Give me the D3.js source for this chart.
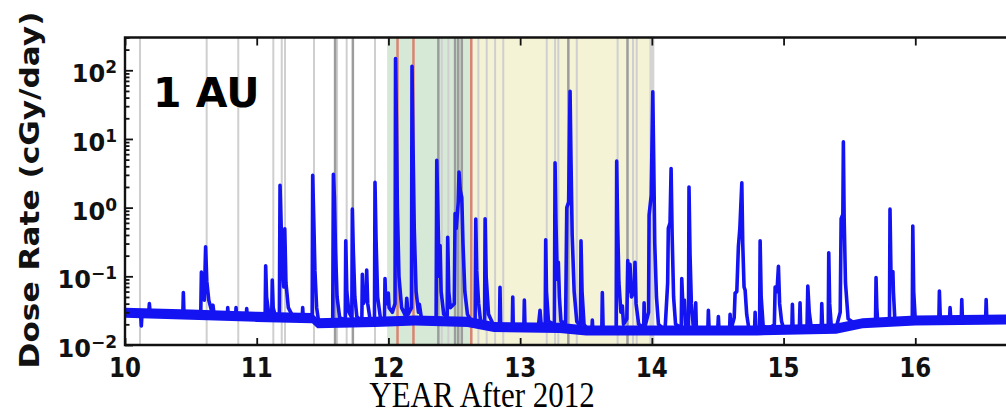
<!DOCTYPE html>
<html>
<head>
<meta charset="utf-8">
<script src="https://cdn.jsdelivr.net/npm/d3@7/dist/d3.min.js"></script>
<style>
  html, body { margin: 0; padding: 0; background: #fff; overflow: hidden; }
  text { font-family: "DejaVu Sans", sans-serif; }
</style>
</head>
<body>
<svg id="chart" width="1006" height="414"></svg>
<script>
// ---- data -------------------------------------------------------------
const xTickYears = [10, 11, 12, 13, 14, 15, 16];
const yDecades = [-2, -1, 0, 1, 2];

// solar-activity phases (years after 2012)
const phases = [
  { start: 11.99, end: 12.64, kind: "maximum" },
  { start: 12.64, end: 13.99, kind: "declining" }
];

// event markers (years after 2012)
const eventsMinor = [10.114, 10.62, 10.86, 11.126, 11.19, 11.215, 11.435, 11.61, 11.683,
  11.898, 12.405, 12.455, 12.683, 12.746, 12.81, 12.872, 13.202, 13.265, 13.29, 13.43,
  13.74, 13.857, 13.885];
const eventsMajor = [11.595, 11.73, 12.379, 12.506, 12.53, 12.557, 13.366, 13.815];
const eventsGle = [12.069, 12.19, 12.629];
const eventsWide = [14.0];

// daily spread of the quiet-time background dose rate (cGy/day)
const bandYears = [10.0, 10.5, 11.0, 11.42, 11.46, 11.9, 12.2, 12.6, 12.8, 13.3, 13.5, 14.0, 14.8, 15.4, 15.6, 16.0, 16.75];
const bandLow   = [0.025, 0.0233, 0.0217, 0.0208, 0.0175, 0.0183, 0.0192, 0.0183, 0.0154, 0.015, 0.0138, 0.0138, 0.0138, 0.0146, 0.0175, 0.0192, 0.020];
const bandHigh  = [0.035, 0.0328, 0.0304, 0.0293, 0.0246, 0.0257, 0.0269, 0.0257, 0.0216, 0.021, 0.0193, 0.0193, 0.0193, 0.0205, 0.0246, 0.0269, 0.028];

// dose rate time series: [year after 2012, cGy/day]
const doseSeries = [
  [10.000,0.030],[10.060,0.031],[10.118,0.029],[10.124,0.019],[10.130,0.030],
  [10.180,0.029],[10.185,0.040],[10.191,0.029],[10.250,0.028],[10.330,0.029],[10.400,0.028],
  [10.439,0.028],[10.443,0.058],[10.448,0.028],[10.500,0.028],
  [10.575,0.028],[10.580,0.115],[10.588,0.075],[10.602,0.045],[10.612,0.27],[10.621,0.085],[10.636,0.045],[10.660,0.030],[10.668,0.038],[10.676,0.028],
  [10.730,0.027],[10.777,0.027],[10.780,0.035],[10.784,0.027],
  [10.840,0.027],[10.843,0.035],[10.847,0.027],
  [10.921,0.027],[10.924,0.034],[10.928,0.026],[11.000,0.026],
  [11.064,0.026],[11.068,0.142],[11.075,0.050],[11.090,0.030],
  [11.114,0.027],[11.118,0.088],[11.125,0.035],[11.140,0.027],
  [11.172,0.027],[11.177,2.12],[11.185,0.60],[11.195,0.12],[11.205,0.07],[11.213,0.49],[11.222,0.08],[11.240,0.035],[11.270,0.027],
  [11.346,0.026],[11.349,0.035],[11.353,0.026],[11.390,0.026],
  [11.421,0.026],[11.425,2.96],[11.433,0.70],[11.442,0.12],[11.455,0.035],[11.470,0.022],[11.520,0.022],
  [11.577,0.022],[11.582,3.07],[11.590,1.40],[11.598,0.25],[11.610,0.05],[11.630,0.025],
  [11.672,0.023],[11.676,0.33],[11.684,0.06],[11.700,0.030],
  [11.722,0.025],[11.726,0.95],[11.733,0.25],[11.745,0.05],[11.760,0.026],
  [11.798,0.022],[11.802,0.107],[11.810,0.040],[11.831,0.050],[11.835,0.123],[11.843,0.040],[11.860,0.024],
  [11.894,0.022],[11.898,2.33],[11.906,0.35],[11.918,0.05],[11.940,0.024],
  [11.970,0.024],[11.974,0.093],[11.980,0.040],[11.995,0.040],[11.999,0.057],[12.005,0.035],[12.030,0.030],
  [12.050,0.040],[12.054,148],[12.060,22],[12.068,1.0],[12.080,0.10],[12.100,0.035],
  [12.132,0.026],[12.139,0.048],[12.150,0.028],
  [12.175,0.035],[12.179,114],[12.186,10],[12.196,0.5],[12.210,0.06],[12.228,0.030],[12.235,0.039],[12.250,0.025],[12.300,0.023],
  [12.362,0.023],[12.367,4.9],[12.374,1.2],[12.382,0.20],[12.387,0.10],[12.392,0.28],[12.400,0.06],[12.420,0.028],
  [12.446,0.026],[12.450,0.37],[12.458,0.06],[12.470,0.035],
  [12.500,0.040],[12.506,0.82],[12.515,0.50],[12.530,1.2],[12.536,3.3],[12.545,1.8],[12.557,1.4],[12.566,0.30],[12.580,0.06],[12.600,0.028],
  [12.630,0.022],
  [12.658,0.022],[12.663,0.68],[12.670,0.12],[12.685,0.040],[12.700,0.022],
  [12.730,0.022],[12.734,0.69],[12.742,0.10],[12.760,0.028],[12.800,0.019],
  [12.843,0.019],[12.847,0.069],[12.852,0.019],[12.900,0.018],
  [12.940,0.018],[12.944,0.050],[12.948,0.018],[12.990,0.019],
  [13.028,0.018],[13.032,0.045],[13.037,0.018],[13.090,0.018],
  [13.140,0.020],[13.151,0.032],[13.160,0.020],
  [13.190,0.020],[13.194,0.34],[13.200,0.06],[13.215,0.022],
  [13.260,0.020],[13.265,4.5],[13.272,0.60],[13.282,0.09],[13.290,0.16],[13.298,0.05],[13.310,0.022],
  [13.345,0.021],[13.354,1.0],[13.368,1.2],[13.379,49.5],[13.386,5],[13.395,0.4],[13.410,0.06],[13.430,0.022],
  [13.458,0.019],[13.462,0.33],[13.470,0.06],[13.485,0.020],[13.510,0.017],
  [13.545,0.017],[13.548,0.023],[13.552,0.017],[13.590,0.017],
  [13.620,0.017],[13.624,0.058],[13.630,0.018],[13.680,0.0165],
  [13.729,0.017],[13.733,4.75],[13.740,0.60],[13.750,0.08],[13.765,0.030],[13.776,0.037],[13.785,0.020],
  [13.810,0.024],[13.817,0.17],[13.825,0.06],[13.834,0.15],[13.845,0.05],[13.865,0.06],[13.872,0.16],[13.880,0.04],[13.900,0.020],
  [13.938,0.018],[13.941,0.041],[13.946,0.018],
  [13.975,0.030],[13.979,0.78],[13.995,1.5],[14.007,48.6],[14.014,5],[14.022,0.30],[14.035,0.05],[14.050,0.020],[14.100,0.0165],
  [14.120,0.08],[14.125,0.50],[14.138,0.60],[14.146,3.7],[14.154,0.40],[14.165,0.05],[14.180,0.020],
  [14.223,0.018],[14.227,0.093],[14.235,0.040],[14.247,0.045],[14.255,0.019],
  [14.278,0.018],[14.282,2.0],[14.290,0.20],[14.300,0.04],[14.315,0.018],
  [14.330,0.018],[14.333,0.041],[14.338,0.017],[14.380,0.0165],
  [14.425,0.0165],[14.429,0.032],[14.435,0.0165],[14.470,0.016],
  [14.500,0.0165],[14.505,0.026],[14.510,0.0165],[14.550,0.016],
  [14.590,0.0165],[14.594,0.028],[14.600,0.0165],
  [14.625,0.025],[14.632,0.057],[14.645,0.06],[14.657,0.27],[14.668,0.50],[14.683,2.3],[14.690,0.30],[14.700,0.07],[14.708,0.063],[14.720,0.028],[14.735,0.018],
  [14.780,0.017],[14.784,0.030],[14.790,0.017],
  [14.818,0.018],[14.822,0.33],[14.830,0.05],[14.845,0.019],[14.890,0.017],
  [14.930,0.020],[14.936,0.07],[14.950,0.06],[14.961,0.14],[14.970,0.04],[14.985,0.022],[15.000,0.0175],
  [15.063,0.0175],[15.067,0.039],[15.072,0.0175],
  [15.120,0.018],[15.125,0.041],[15.130,0.018],
  [15.178,0.018],[15.184,0.072],[15.195,0.030],[15.210,0.018],[15.250,0.0175],
  [15.286,0.018],[15.290,0.040],[15.296,0.018],
  [15.339,0.018],[15.343,0.22],[15.350,0.04],[15.362,0.019],[15.400,0.018],
  [15.430,0.030],[15.437,0.69],[15.450,0.8],[15.454,9.06],[15.460,0.7],[15.470,0.08],[15.490,0.024],
  [15.550,0.020],[15.620,0.021],
  [15.698,0.021],[15.702,0.096],[15.708,0.035],[15.715,0.021],[15.760,0.021],
  [15.804,0.021],[15.808,0.95],[15.815,0.12],[15.830,0.117],[15.834,0.06],[15.845,0.023],
  [15.900,0.022],[15.977,0.022],[15.981,0.54],[15.988,0.06],[16.000,0.023],
  [16.100,0.023],[16.179,0.023],[16.183,0.061],[16.190,0.024],
  [16.260,0.023],[16.264,0.035],[16.270,0.023],
  [16.349,0.023],[16.353,0.046],[16.358,0.023],[16.440,0.023],
  [16.534,0.023],[16.538,0.046],[16.543,0.023],[16.640,0.024],[16.760,0.024]
];

// ---- layout -----------------------------------------------------------
const plot = { left: 125, top: 37.5, bottom: 345, right: 1047 };
const svg = d3.select("#chart");

const x = d3.scaleLinear().domain([10, 17]).range([plot.left, plot.right]);
const y = d3.scaleLog().domain([0.01, 300]).range([plot.bottom, plot.top]);

svg.append("defs").append("clipPath").attr("id", "plotClip")
  .append("rect")
  .attr("x", plot.left).attr("y", plot.top)
  .attr("width", plot.right - plot.left).attr("height", plot.bottom - plot.top);

const g = svg.append("g").attr("clip-path", "url(#plotClip)");

// phase shading
const phaseFill = { maximum: "#d6e9d7", declining: "#f5f3d6" };
g.selectAll("rect.phase").data(phases).join("rect")
  .attr("class", "phase")
  .attr("x", d => x(d.start)).attr("width", d => x(d.end) - x(d.start))
  .attr("y", plot.top).attr("height", plot.bottom - plot.top)
  .attr("fill", d => phaseFill[d.kind]);

// event marker lines
function markers(list, color, width) {
  g.append("g").selectAll("line").data(list).join("line")
    .attr("x1", d => x(d)).attr("x2", d => x(d))
    .attr("y1", plot.top).attr("y2", plot.bottom)
    .attr("stroke", color).attr("stroke-width", width);
}
markers(eventsWide, "#d4d4d4", 5);
markers(eventsMinor, "#cfcfcf", 2);
markers(eventsMajor, "#9c9c9c", 2.5);
markers(eventsGle, "#d88472", 2.5);

// background spread
const bandData = bandYears.map((t, i) => ({ t, lo: bandLow[i], hi: bandHigh[i] }));
g.append("path").datum(bandData)
  .attr("fill", "#1414f2")
  .attr("d", d3.area().x(d => x(d.t)).y0(d => y(d.lo)).y1(d => y(d.hi)));

// dose rate line
g.append("path").datum(doseSeries)
  .attr("fill", "none")
  .attr("stroke", "#1414f2")
  .attr("stroke-width", 3.6)
  .attr("stroke-linejoin", "round")
  .attr("d", d3.line().x(d => x(d[0])).y(d => y(d[1])));

// ---- axes -------------------------------------------------------------
const axisColor = "#111";
const majorY = yDecades.map(e => Math.pow(10, e));
const minorY = [];
for (let e = -2; e <= 2; e++) for (let m = 2; m <= 9; m++) {
  const v = m * Math.pow(10, e);
  if (v <= 300) minorY.push(v);
}

function styleAxis(sel) {
  sel.select(".domain").remove();
  sel.selectAll(".tick line").attr("stroke", axisColor).attr("stroke-width", 1.8);
  sel.selectAll(".tick text").remove();
}

svg.append("g").attr("transform", `translate(${plot.left},0)`)
  .call(d3.axisRight(y).tickValues(majorY).tickSize(8).tickFormat(""))
  .call(styleAxis);
svg.append("g").attr("transform", `translate(${plot.left},0)`)
  .call(d3.axisRight(y).tickValues(minorY).tickSize(4.5).tickFormat(""))
  .call(styleAxis);
svg.append("g").attr("transform", `translate(0,${plot.bottom})`)
  .call(d3.axisTop(x).tickValues(xTickYears).tickSize(7).tickFormat(""))
  .call(styleAxis);
svg.append("g").attr("transform", `translate(0,${plot.top})`)
  .call(d3.axisBottom(x).tickValues(xTickYears).tickSize(8).tickFormat(""))
  .call(styleAxis);

// frame (left, top, bottom)
svg.append("path")
  .attr("d", `M${plot.right},${plot.top}H${plot.left}V${plot.bottom}H${plot.right}`)
  .attr("fill", "none").attr("stroke", axisColor).attr("stroke-width", 2.4);

// x tick labels
svg.append("g").selectAll("text").data(xTickYears).join("text")
  .attr("transform", d => `translate(${x(d)},377) scale(1,1.15)`)
  .attr("text-anchor", "middle")
  .attr("font-weight", "bold").attr("font-size", 23)
  .attr("fill", "#111")
  .text(d => d);

// y tick labels: 10^n
const yl = svg.append("g").selectAll("text").data(yDecades).join("text")
  .attr("x", 117).attr("y", d => y(Math.pow(10, d)) + 12)
  .attr("text-anchor", "end")
  .attr("font-weight", "bold").attr("font-size", 24)
  .attr("fill", "#111");
yl.append("tspan").text("10");
yl.append("tspan").attr("dy", -9).attr("font-size", 17)
  .text(d => (d < 0 ? "\u2212" : "") + Math.abs(d));

// y axis title
svg.append("text")
  .attr("transform", "translate(39,190) scale(1,1.2) rotate(-90)")
  .attr("text-anchor", "middle")
  .attr("font-weight", "bold").attr("font-size", 26)
  .attr("fill", "#111")
  .text("Dose Rate (cGy/day)");

// panel label
svg.append("text")
  .attr("x", 153).attr("y", 107)
  .attr("font-weight", "bold").attr("font-size", 41)
  .attr("fill", "#000")
  .text("1 AU");

// x axis title
svg.append("text")
  .attr("transform", "translate(482,407) scale(1,1.15)")
  .attr("text-anchor", "middle")
  .style("font-family", "'Liberation Serif', 'Times New Roman', serif")
  .attr("font-size", 31)
  .attr("fill", "#000")
  .text("YEAR After 2012");
</script>
</body>
</html>
